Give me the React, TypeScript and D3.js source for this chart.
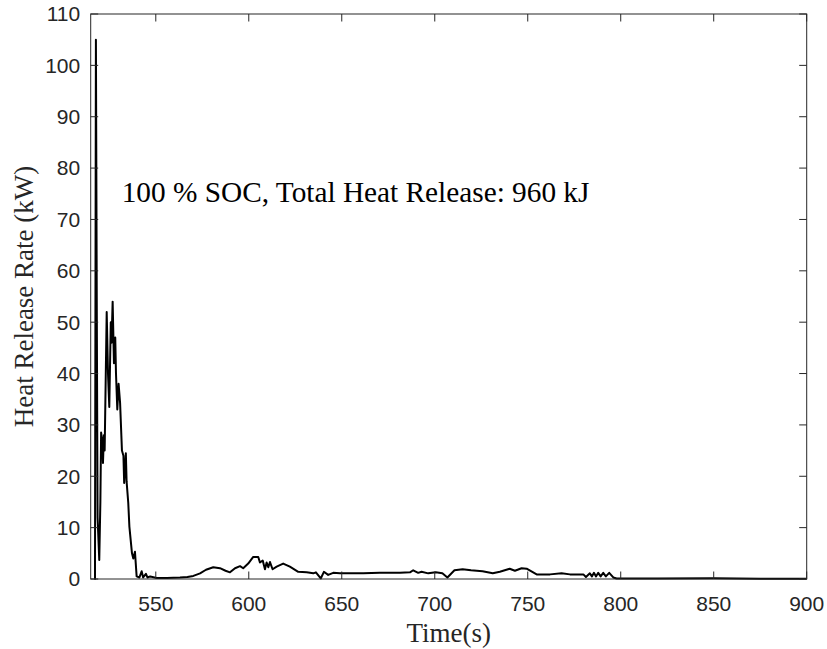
import React from 'react';
import * as d3 from 'd3';

// time (s) and heat release rate (kW)
const timeS = [
  517, 517.3, 517.8, 518.3, 518.7, 519.6, 520.2, 520.6, 521.2, 521.6, 522.1, 522.5,
  523.6, 524.3, 525.0, 525.8, 526.2, 526.8, 527.5, 528.2, 528.6, 529.3, 530.0, 530.8,
  531.8, 532.6, 533.0, 533.9, 534.3, 535.2, 535.8, 537.2, 537.9, 538.8, 539.7, 541.2,
  542.4, 543.2, 544.7, 545.5, 547, 550.5, 556, 563, 567, 570.2, 573.8, 577, 580.9,
  584.5, 587.5, 589.9, 592.6, 595.3, 597, 599.7, 602.4, 605.1, 606, 607.5, 608.7,
  609.6, 610.5, 611.4, 612.8, 615, 618.5, 622.1, 626.6, 631.1, 634.7, 636.1, 638.7,
  640.4, 642.7, 645.4, 649, 661.6, 670.5, 681.3, 686.7, 688.4, 691.1, 692.9, 696.5,
  700.5, 704.1, 706.8, 710.6, 715, 719.5, 725.7, 731.2, 735, 740.3, 743.1, 746.7,
  749.4, 754.8, 762, 768.2, 772.7, 779.9, 781.3, 783.4, 784.5, 785.6, 786.7, 787.9,
  789.2, 790.6, 792, 793.8, 796, 797.8, 820, 850, 875, 900,
];
const hrrKW = [
  0, 0, 105, 50, 12, 3.7, 15, 28.5, 27, 22.6, 28, 25,
  52, 40, 33.5, 50, 46, 54, 42, 47, 40, 33, 38, 34.3,
  25, 24, 18.7, 24.5, 19, 14.8, 10.2, 5, 4, 5.3, 0.5, 0.3,
  1.5, 0.3, 1.0, 0.3, 0.5, 0.2, 0.2, 0.3, 0.4, 0.6, 1.1, 1.8, 2.3,
  2.1, 1.6, 1.3, 2.1, 2.5, 2.1, 3.0, 4.3, 4.3, 3.2, 3.6, 1.9,
  3.2, 2.3, 3.3, 1.9, 2.4, 3.0, 2.4, 1.4, 1.3, 1.1, 1.3, 0.1,
  1.4, 0.8, 1.2, 1.1, 1.1, 1.2, 1.2, 1.3, 1.7, 1.2, 1.4, 1.1,
  1.3, 1.1, 0.3, 1.7, 1.9, 1.7, 1.5, 1.1, 1.4, 2.0, 1.6, 2.1,
  2.0, 0.9, 0.9, 1.1, 0.9, 0.9, 0.4, 1.1, 0.5, 1.2, 0.5, 1.2,
  0.5, 1.2, 0.5, 1.2, 0.3, 0.1, 0.1, 0.15, 0.05, 0.05,
];

const xTicks = [550, 600, 650, 700, 750, 800, 850, 900];
const yTicks = [0, 10, 20, 30, 40, 50, 60, 70, 80, 90, 100, 110];

const xLabel = 'Time(s)';
const yLabel = 'Heat Release Rate (kW)';
const note = '100 % SOC, Total Heat Release: 960 kJ';

const width = 827;
const height = 649;
const margin = { top: 14, right: 20.3, bottom: 70, left: 90.7 };
const axisColor = '#262626';
const tickLen = 7.5;

export default function App() {
  const innerWidth = width - margin.left - margin.right;
  const innerHeight = height - margin.top - margin.bottom;

  const xScale = d3.scaleLinear().domain([515, 900]).range([0, innerWidth]);
  const yScale = d3.scaleLinear().domain([0, 110]).range([innerHeight, 0]);

  const points = timeS.map((t, i) => [t, hrrKW[i]] as [number, number]);
  const path = d3
    .line<[number, number]>()
    .x(d => xScale(d[0]))
    .y(d => yScale(d[1]))(points);

  const sans = '"Liberation Sans", Arial, Helvetica, sans-serif';
  const serif = '"Liberation Serif", "Times New Roman", serif';

  return (
    <svg
      width={width}
      height={height}
      style={{ position: 'absolute', left: 0, top: 0, background: '#fff' }}
    >
      <g transform={`translate(${margin.left},${margin.top})`}>
        <path d={path || ''} fill="none" stroke="#000" strokeWidth={2} strokeLinejoin="round" />

        {/* axes box */}
        <rect
          x={0}
          y={0}
          width={innerWidth}
          height={innerHeight}
          fill="none"
          stroke={axisColor}
          strokeWidth={1}
        />

        {xTicks.map(t => (
          <g key={t} transform={`translate(${xScale(t)},0)`}>
            <line y1={innerHeight} y2={innerHeight - tickLen} stroke={axisColor} />
            <line y1={0} y2={tickLen} stroke={axisColor} />
            <text
              y={innerHeight + 31.5}
              textAnchor="middle"
              fontFamily={sans}
              fontSize={21}
              fill={axisColor}
            >
              {t}
            </text>
          </g>
        ))}

        {yTicks.map(t => (
          <g key={t} transform={`translate(0,${yScale(t)})`}>
            <line x1={0} x2={tickLen} stroke={axisColor} />
            <line x1={innerWidth} x2={innerWidth - tickLen} stroke={axisColor} />
            <text
              x={-10.5}
              dy="0.35em"
              textAnchor="end"
              fontFamily={sans}
              fontSize={21}
              fill={axisColor}
            >
              {t}
            </text>
          </g>
        ))}

        <text
          x={innerWidth / 2}
          y={innerHeight + 63}
          textAnchor="middle"
          fontFamily={serif}
          fontSize={27}
          fill={axisColor}
        >
          {xLabel}
        </text>
        <text
          transform={`translate(${33.3 - margin.left},${innerHeight / 2}) rotate(-90)`}
          textAnchor="middle"
          fontFamily={serif}
          fontSize={27}
          fill={axisColor}
        >
          {yLabel}
        </text>

        <text
          x={121.7 - margin.left}
          y={201.7 - margin.top}
          fontFamily={serif}
          fontSize={29.3}
          fill="#000"
        >
          {note}
        </text>
      </g>
    </svg>
  );
}
